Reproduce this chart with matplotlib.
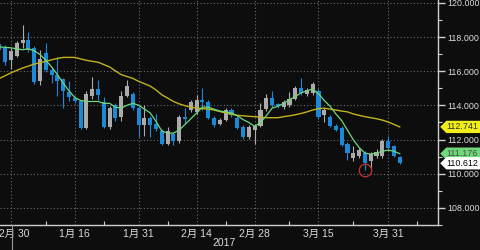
###############################################################################
#0. Import Modules
###############################################################################

import matplotlib
matplotlib.use('Agg')
import matplotlib.pyplot as plt
import matplotlib.patches as mpatches
import matplotlib.transforms as mtransforms
import numpy as np
import pandas as pd

plt.rcParams['font.family'] = ['Liberation Sans', 'Noto Sans CJK JP', 'DejaVu Sans']

###############################################################################
#1. Data
###############################################################################

#Trading days shown on the chart
tradeDates = pd.bdate_range('2016-12-28', '2017-04-04')

openPx = [117.59, 117.37, 116.64, 116.92, 117.65, 117.82, 117.37, 115.41, 117.09, 116.08,
          115.80, 115.52, 114.79, 114.46, 114.23, 112.66, 114.57, 114.96, 114.18, 112.72,
          114.01, 113.34, 114.57, 114.68, 113.84, 112.83, 113.28, 112.89, 112.50, 111.77,
          112.33, 111.94, 113.34, 113.73, 113.62, 114.34, 114.18, 113.28, 112.89, 113.17,
          113.73, 113.28, 112.72, 112.16, 112.55, 112.78, 113.78, 114.46, 114.06, 113.90,
          114.01, 114.40, 115.02, 114.68, 114.74, 114.85, 113.45, 113.34, 112.78, 112.66,
          111.77, 110.93, 111.04, 111.21, 110.76, 111.04, 111.04, 111.94, 111.60, 110.99]
highPx = [117.82, 117.54, 117.37, 117.76, 118.71, 118.27, 117.48, 117.26, 117.65, 116.25,
          116.81, 115.63, 115.41, 114.57, 114.34, 114.85, 115.69, 115.46, 114.51, 113.95,
          114.12, 114.85, 115.46, 114.79, 113.95, 114.01, 113.39, 113.50, 112.61, 112.72,
          112.44, 113.45, 113.84, 114.29, 114.62, 115.02, 114.29, 113.39, 113.28, 113.84,
          113.84, 113.39, 112.83, 112.83, 112.89, 114.12, 114.68, 114.85, 114.12, 114.29,
          114.79, 115.13, 115.58, 115.02, 115.35, 114.96, 113.84, 113.45, 112.89, 112.78,
          111.88, 111.60, 111.49, 111.32, 111.26, 111.43, 112.05, 112.22, 111.71, 111.04]
lowPx = [117.09, 116.36, 116.14, 116.81, 117.37, 117.15, 115.24, 115.18, 115.97, 115.30,
         114.57, 113.84, 114.23, 114.12, 112.61, 112.61, 114.40, 114.34, 112.66, 112.61,
         113.11, 113.11, 114.51, 113.73, 112.16, 112.22, 112.16, 112.50, 111.66, 111.66,
         111.66, 111.82, 112.89, 113.62, 113.50, 113.73, 113.22, 112.72, 112.83, 113.06,
         113.34, 112.61, 112.05, 112.05, 111.77, 112.72, 113.67, 113.90, 113.84, 113.78,
         113.90, 114.29, 114.62, 114.57, 114.62, 113.22, 113.00, 112.72, 112.50, 111.60,
         110.81, 110.76, 110.93, 110.20, 110.25, 110.93, 110.93, 111.38, 110.99, 110.55]
closePx = [117.26, 116.53, 117.20, 117.65, 117.82, 117.26, 115.35, 116.70, 116.08, 115.80,
           115.41, 114.85, 114.51, 114.23, 112.66, 114.68, 114.96, 114.62, 112.72, 113.84,
           113.28, 114.57, 115.13, 113.84, 112.83, 113.28, 112.83, 112.61, 111.77, 112.50,
           111.94, 113.34, 113.22, 114.18, 114.29, 114.18, 113.28, 112.83, 113.17, 113.73,
           113.45, 112.66, 112.16, 112.72, 112.80, 113.73, 114.46, 114.01, 113.95, 114.18,
           114.40, 115.02, 114.74, 114.90, 115.24, 113.34, 113.73, 112.78, 112.55, 111.66,
           111.21, 111.21, 111.38, 110.65, 111.15, 111.26, 111.94, 111.49, 111.04, 110.612]

#Short moving average (green) and long moving average (yellow)
maShort = [117.42, 117.40, 117.37, 117.31, 117.26, 117.31, 117.20, 116.98, 116.64, 116.25,
           115.80, 115.30, 114.85, 114.46, 114.29, 114.23, 114.23, 114.23, 114.12, 114.12,
           113.90, 113.84, 114.01, 114.12, 114.01, 113.78, 113.56, 113.06, 112.50, 112.38,
           112.38, 112.55, 112.89, 113.22, 113.56, 113.90, 113.90, 113.78, 113.67, 113.62,
           113.56, 113.39, 113.17, 113.00, 112.78, 113.00, 113.39, 113.84, 113.95, 114.12,
           114.34, 114.51, 114.74, 114.85, 114.96, 114.68, 114.29, 113.95, 113.50, 113.11,
           112.55, 111.99, 111.54, 111.21, 111.15, 111.21, 111.32, 111.38, 111.32, 111.176]
maLong = [115.58, 115.74, 115.91, 116.05, 116.19, 116.30, 116.42, 116.50, 116.58, 116.67,
          116.75, 116.81, 116.81, 116.81, 116.72, 116.64, 116.58, 116.53, 116.39, 116.25,
          116.02, 115.80, 115.69, 115.58, 115.41, 115.27, 115.13, 114.90, 114.62, 114.43,
          114.23, 114.09, 113.98, 113.90, 113.84, 113.81, 113.78, 113.73, 113.64, 113.56,
          113.48, 113.42, 113.39, 113.36, 113.34, 113.31, 113.28, 113.28, 113.28, 113.34,
          113.39, 113.45, 113.53, 113.62, 113.73, 113.81, 113.84, 113.78, 113.73, 113.67,
          113.62, 113.50, 113.42, 113.34, 113.28, 113.22, 113.14, 113.03, 112.89, 112.741]

#Labelled dates on the x axis and minor tick dates
majorDates = ['2016-12-30', '2017-01-16', '2017-01-31', '2017-02-14', '2017-02-28', '2017-03-15', '2017-03-31']
minorDates = ['2017-01-09', '2017-01-23', '2017-02-07', '2017-02-21', '2017-03-08', '2017-03-23', '2017-04-07']
yTicks = [108, 110, 112, 114, 116, 118, 120]

###############################################################################
#2. Setup figure
###############################################################################

bgColor = '#0d0d0d'
downColor = '#1b8ad6'
upColor = '#ababab'
textColor = '#dcdcdc'
labelSize = 6.4

fig = plt.figure(figsize=(4.8, 2.5), dpi=100, facecolor=bgColor)
ax = fig.add_axes([0.0, 0.1, 0.9125, 0.9])
ax.set_facecolor(bgColor)

#Index positions for trading days (weekends removed like the original)
xPos = np.arange(len(tradeDates))
dateIndex = {d.strftime('%Y-%m-%d'): i for i, d in enumerate(tradeDates)}
def dateToX(d):
    if d in dateIndex:
        return dateIndex[d]
    return len(tradeDates) - 1 + np.busday_count('2017-04-04', d) #Dates after the last candle

###############################################################################
#3. Draw candles and moving averages
###############################################################################

openArr, highArr, lowArr, closeArr = map(np.array, (openPx, highPx, lowPx, closePx))
isUp = closeArr >= openArr
candleColors = np.where(isUp, upColor, downColor)

ax.vlines(xPos, lowArr, highArr, colors=candleColors, linewidth=0.8, zorder=3) #Wicks
bodyBottom = np.minimum(openArr, closeArr)
bodyHeight = np.maximum(np.abs(closeArr - openArr), 0.07)
ax.bar(xPos, bodyHeight, bottom=bodyBottom, width=0.7, color=candleColors, linewidth=0, zorder=4) #Bodies

ax.plot(xPos, maLong, color='#c2b21c', linewidth=1.0, zorder=5)
ax.plot(xPos, maShort, color='#6fd87a', linewidth=0.9, zorder=5)

#Red circle around the low
lowIdx = int(np.argmin(lowArr))
ax.plot(xPos[lowIdx], lowArr[lowIdx], marker='o', markersize=9, markerfacecolor='none',
        markeredgecolor='#c8322a', markeredgewidth=0.9, zorder=6)

###############################################################################
#4. Axes formatting
###############################################################################

ax.set_xlim(0.1, 75.6)
ax.set_ylim(107.57, 120.17)

majorX = [dateToX(d) for d in majorDates]
ax.set_xticks(majorX)
ax.set_xticklabels([str(pd.Timestamp(d).month) + '月 ' + str(pd.Timestamp(d).day) for d in majorDates])
ax.set_xticks([dateToX(d) for d in minorDates], minor=True)

ax.yaxis.tick_right()
ax.set_yticks(yTicks)
ax.set_yticklabels(['%.3f' % t for t in yTicks])
ax.set_yticks(np.arange(107, 121, 1), minor=True)

for side in ['left', 'top']:
    ax.spines[side].set_visible(False)
for side in ['right', 'bottom']:
    ax.spines[side].set_color('#cfcfcf')
    ax.spines[side].set_linewidth(1.0)

ax.tick_params(axis='y', which='major', colors='#cfcfcf', labelcolor=textColor, length=5, width=1, labelsize=labelSize, pad=1.5)
ax.tick_params(axis='y', which='minor', colors='#cfcfcf', length=3, width=0.8)
ax.tick_params(axis='x', which='major', colors='#cfcfcf', labelcolor=textColor, length=0, labelsize=7.5, pad=3)
ax.tick_params(axis='x', which='minor', colors='#cfcfcf', length=3, width=0.8, direction='in')

ax.grid(True, which='major', color='#6a6a78', linestyle=(0, (1, 2)), linewidth=0.8, zorder=0)

#Year label and year separator
fig.text(0.467, 0.028, '2017', color=textColor, fontsize=7.5, ha='center', va='center')
fig.add_artist(plt.Line2D([11.5 / 480, 11.5 / 480], [0.0, 0.1], color='#9a9a9a', linewidth=0.8))

###############################################################################
#5. Last value labels on the right
###############################################################################

trans = mtransforms.blended_transform_factory(ax.transAxes, ax.transData)
lastLabels = [(maLong[-1], '#f2ee1c', '#303030'), (maShort[-1], '#6fd87a', '#4a4a4a'), (closePx[-1], '#ffffff', '#000000')]
boxHalf = 0.36
for val, fc, tc in lastLabels:
    poly = mpatches.Polygon([(1.005, val), (1.019, val + boxHalf), (1.1, val + boxHalf), (1.1, val - boxHalf), (1.019, val - boxHalf)],
                            closed=True, transform=trans, facecolor=fc, edgecolor='none', clip_on=False, zorder=10)
    ax.add_patch(poly)
    ax.text(1.02, val, '%.3f' % val, transform=trans, color=tc, fontsize=labelSize, ha='left', va='center',
            clip_on=False, zorder=11)

###############################################################################
#6. Save figure
###############################################################################

plt.savefig('out.png', dpi=100, facecolor=bgColor)
